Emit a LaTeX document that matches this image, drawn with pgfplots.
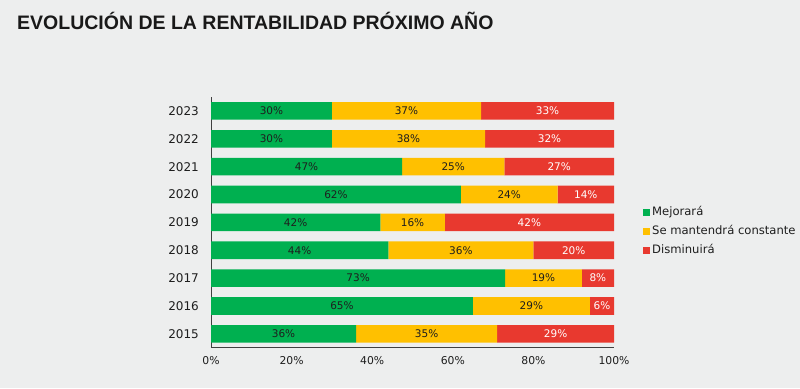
\documentclass[border=0pt]{standalone}
\usepackage{pgfplots}
\pgfplotsset{compat=1.18}
\usepackage{fontspec}
\setmainfont{DejaVu Sans}
\newfontfamily\titlefont{Liberation Sans}
\definecolor{bg}{RGB}{237,238,238}
\definecolor{cgreen}{RGB}{0,176,80}
\definecolor{cyellow}{RGB}{255,192,0}
\definecolor{cred}{RGB}{232,57,47}
\definecolor{ctext}{RGB}{30,30,30}
\pgfplotsset{
  frame/.style={
    at={(211bp,41bp)}, anchor=south west,
    scale only axis, width=403bp, height=250bp,
    xmin=0, xmax=100, ymin=-0.47, ymax=8.5,
  }
}
\begin{document}
\begin{tikzpicture}[x=1bp,y=1bp]
\fill[bg] (0,0) rectangle (800,388);
\useasboundingbox (0,0) rectangle (800,388);
\node[anchor=base west,inner sep=0pt,font=\titlefont\bfseries\fontsize{19.5bp}{22bp}\selectfont,text=black!90] at (17,359) {EVOLUCIÓN DE LA RENTABILIDAD PRÓXIMO AÑO};
\begin{axis}[
  frame,
  xbar stacked, bar width=17.6bp,
  axis x line*=bottom, axis y line*=left,
  axis line style={black!75, line width=0.8pt},
  major tick length=0pt,
  xtick={0,20,40,60,80,100},
  xticklabels={0\%,20\%,40\%,60\%,80\%,100\%},
  ytick={0,1,2,3,4,5,6,7,8},
  yticklabels={2015,2016,2017,2018,2019,2020,2021,2022,2023},
  xticklabel style={font=\fontsize{10.8bp}{12bp}\selectfont, text=ctext, anchor=north, inner sep=0pt, yshift=-9bp},
  yticklabel style={font=\fontsize{12bp}{14bp}\selectfont, text=ctext, anchor=east, inner sep=0pt, xshift=-12bp},
  legend style={at={(1,0.5)}, anchor=west, xshift=29bp, yshift=-9.5bp, draw=none, fill=none,
     font=\fontsize{11.6bp}{13bp}\selectfont, text=ctext, row sep=7bp, inner sep=0pt,
     nodes={inner sep=0pt, text height=9bp, text depth=3bp}, cells={anchor=west}},
  legend image code/.code={\fill[#1] (0bp,-3.3bp) rectangle (7bp,3.7bp);},
  legend cell align=left,
  every axis plot/.append style={draw=none},
]
\addplot[fill=cgreen] table[x=v,y=y] {
y v
0 36
1 65
2 73
3 44
4 42
5 62
6 47.4
7 30
8 30
};
\addplot[fill=cyellow] table[x=v,y=y] {
y v
0 35
1 29
2 19
3 36
4 16
5 24
6 25.4
7 38
8 37
};
\addplot[fill=cred] table[x=v,y=y] {
y v
0 29
1 6
2 8
3 20
4 42
5 14
6 27.2
7 32
8 33
};
\legend{\,Mejorará,\,Se mantendrá constante,\,Disminuirá}
\end{axis}
\begin{axis}[
  frame, hide axis,
  point meta=explicit symbolic,
  nodes near coords={\pgfplotspointmeta\%},
  every node near coord/.append style={anchor=center, inner sep=0pt, font=\fontsize{10.5bp}{12bp}\selectfont},
]
% segment centres: green, yellow, red
\addplot[draw=none, mark=none, every node near coord/.append style={text=ctext}] table[x=c,y=y,meta=l] {
y c l
0 18 36
1 32.5 65
2 36.5 73
3 22 44
4 21 42
5 31 62
6 23.7 47
7 15 30
8 15 30
};
\addplot[draw=none, mark=none, every node near coord/.append style={text=ctext}] table[x=c,y=y,meta=l] {
y c l
0 53.5 35
1 79.5 29
2 82.5 19
3 62 36
4 50 16
5 74 24
6 60.1 25
7 49 38
8 48.5 37
};
\addplot[draw=none, mark=none, every node near coord/.append style={text=white}] table[x=c,y=y,meta=l] {
y c l
0 85.5 29
1 97 6
2 96 8
3 90 20
4 79 42
5 93 14
6 86.4 27
7 84 32
8 83.5 33
};
\end{axis}
\end{tikzpicture}
\end{document}
